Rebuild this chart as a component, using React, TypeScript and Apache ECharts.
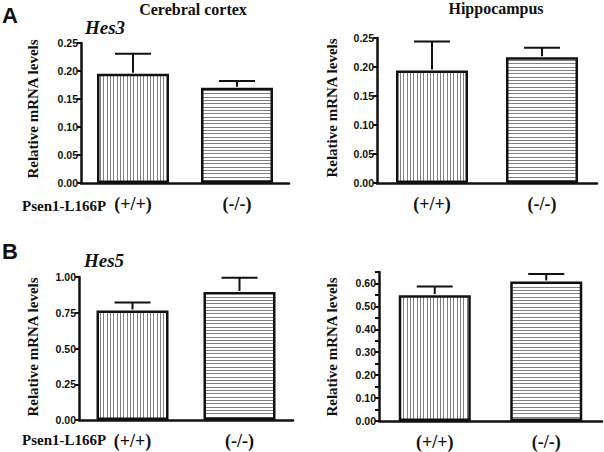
import React, { useEffect, useRef } from "react";
import * as echarts from "echarts";

const categories = ["(+/+)", "(-/-)"];
const hes3CortexMean = [0.195, 0.17];
const hes3CortexSem = [0.036, 0.012];
const hes3HippoMean = [0.194, 0.217];
const hes3HippoSem = [0.05, 0.016];
const hes5CortexMean = [0.766, 0.895];
const hes5CortexSem = [0.055, 0.1];
const hes5HippoMean = [0.549, 0.609];
const hes5HippoSem = [0.038, 0.032];

const SERIF = "Liberation Serif";
const SANS = "Liberation Sans";

function makePattern(vertical: boolean) {
  const c = document.createElement("canvas");
  const period = 10;
  c.width = vertical ? period : 1;
  c.height = vertical ? 1 : period;
  const ctx = c.getContext("2d")!;
  ctx.fillStyle = "#ffffff";
  ctx.fillRect(0, 0, c.width, c.height);
  ctx.fillStyle = "#808080";
  [0, 3, 7].forEach((p) => {
    if (vertical) ctx.fillRect(p, 0, 1, 1);
    else ctx.fillRect(0, p, 1, 1);
  });
  return {
    image: c,
    repeat: "repeat",
    imageWidth: c.width,
    imageHeight: c.height,
  } as any;
}

export default function App() {
  const ref = useRef<HTMLDivElement>(null);
  useEffect(() => {
    const chart = echarts.init(ref.current!, null, { renderer: "svg" });
    const vPat = makePattern(true);
    const hPat = makePattern(false);

    const panels = [
      { grid: { left: 81, top: 43, width: 208, height: 140 }, mean: hes3CortexMean, sem: hes3CortexSem, max: 0.25, interval: 0.05, labelStep: 0.05 },
      { grid: { left: 377, top: 38, width: 220, height: 145 }, mean: hes3HippoMean, sem: hes3HippoSem, max: 0.25, interval: 0.05, labelStep: 0.05 },
      { grid: { left: 79, top: 277, width: 214, height: 143 }, mean: hes5CortexMean, sem: hes5CortexSem, max: 1, interval: 0.25, labelStep: 0.25 },
      { grid: { left: 379, top: 272, width: 223, height: 149 }, mean: hes5HippoMean, sem: hes5HippoSem, max: 0.65, interval: 0.05, labelStep: 0.1 },
    ];

    const grids: any[] = [];
    const xAxes: any[] = [];
    const yAxes: any[] = [];
    const series: any[] = [];

    panels.forEach((p, i) => {
      grids.push({ ...p.grid, containLabel: false });
      xAxes.push({
        type: "category",
        gridIndex: i,
        data: categories,
        axisLine: { lineStyle: { color: "#111", width: 2.5 } },
        axisTick: { alignWithLabel: true, length: 5, lineStyle: { color: "#111", width: 2 } },
        axisLabel: {
          color: "#111",
          fontFamily: SERIF,
          fontWeight: "bold",
          fontSize: 18,
          margin: 12,
        },
      });
      yAxes.push({
        type: "value",
        gridIndex: i,
        min: 0,
        max: p.max,
        interval: p.interval,
        splitLine: { show: false },
        axisLine: { show: true, lineStyle: { color: "#111", width: 2.5 } },
        axisTick: { show: true, length: 4, lineStyle: { color: "#111", width: 2 } },
        axisLabel: {
          color: "#111",
          fontFamily: SANS,
          fontWeight: "bold",
          fontSize: 10.5,
          margin: 3,
          showMaxLabel: true,
          formatter: (v: number) => {
            const r = Math.round(v * 1000) / 1000;
            const k = r / p.labelStep;
            if (Math.abs(k - Math.round(k)) > 1e-6) return "";
            return r.toFixed(2);
          },
        },
      });
      series.push({
        type: "bar",
        xAxisIndex: i,
        yAxisIndex: i,
        barWidth: 72,
        data: p.mean.map((m, j) => ({
          value: m,
          itemStyle: { color: j === 0 ? vPat : hPat },
        })),
        itemStyle: { borderColor: "#111", borderWidth: 2.5 },
        z: 2,
      });
      series.push({
        type: "custom",
        xAxisIndex: i,
        yAxisIndex: i,
        z: 3,
        data: p.mean.map((m, j) => [j, m, m + p.sem[j]]),
        renderItem: (params: any, api: any) => {
          const x = api.value(0);
          const p0 = api.coord([x, api.value(1)]);
          const p1 = api.coord([x, api.value(2)]);
          const st = { stroke: "#111", lineWidth: 2 };
          return {
            type: "group",
            children: [
              { type: "line", shape: { x1: p0[0], y1: p0[1] - 1, x2: p1[0], y2: p1[1] }, style: st },
              { type: "line", shape: { x1: p1[0] - 18, y1: p1[1], x2: p1[0] + 18, y2: p1[1] }, style: st },
            ],
          };
        },
      });
    });

    const yName = (x: number, y: number) => ({
      type: "text",
      x,
      y,
      rotation: Math.PI / 2,
      style: {
        text: "Relative mRNA levels",
        fontFamily: SERIF,
        fontWeight: "bold",
        fontSize: 15,
        fill: "#111",
        align: "center",
        verticalAlign: "middle",
      },
    });
    const txt = (text: string, x: number, y: number, opts: any) => ({
      type: "text",
      x,
      y,
      style: { text, fill: "#111", verticalAlign: "middle", ...opts },
    });

    const graphic = [
      txt("A", 2, 15, { fontFamily: SANS, fontWeight: "bold", fontSize: 22, align: "left" }),
      txt("B", 2, 251, { fontFamily: SANS, fontWeight: "bold", fontSize: 22, align: "left" }),
      txt("Cerebral cortex", 193, 9, { fontFamily: SERIF, fontWeight: "bold", fontSize: 16, align: "center" }),
      txt("Hippocampus", 496, 8, { fontFamily: SERIF, fontWeight: "bold", fontSize: 16, align: "center" }),
      txt("Hes3", 85, 27, { fontFamily: SERIF, fontWeight: "bold", fontStyle: "italic", fontSize: 19, align: "left" }),
      txt("Hes5", 84, 260, { fontFamily: SERIF, fontWeight: "bold", fontStyle: "italic", fontSize: 19, align: "left" }),
      txt("Psen1-L166P", 22, 206, { fontFamily: SERIF, fontWeight: "bold", fontSize: 15, align: "left" }),
      txt("Psen1-L166P", 22, 440, { fontFamily: SERIF, fontWeight: "bold", fontSize: 15, align: "left" }),
      yName(33, 109),
      yName(332, 108),
      yName(33, 347),
      yName(332, 347),
    ];

    chart.setOption({
      animation: false,
      backgroundColor: "#ffffff",
      grid: grids,
      xAxis: xAxes,
      yAxis: yAxes,
      series,
      graphic,
    });
    return () => chart.dispose();
  }, []);

  return (
    <div
      ref={ref}
      style={{ position: "fixed", left: 0, top: 0, width: 604, height: 452, background: "#fff" }}
    />
  );
}
